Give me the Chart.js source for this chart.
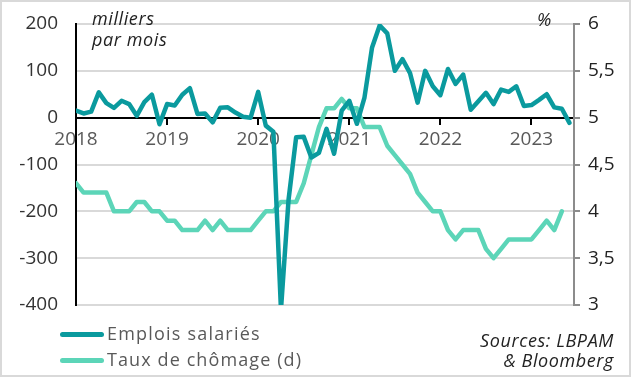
<!DOCTYPE html>
<html><head><meta charset="utf-8">
<script src="https://cdn.jsdelivr.net/npm/chart.js@4.4.0/dist/chart.umd.min.js"></script>
<style>
html,body{margin:0;padding:0;background:#fff;}
#wrap{position:relative;width:631px;height:377px;overflow:hidden;font-family:'Open Sans',sans-serif;}
#frame{position:absolute;left:0;top:0;width:631px;height:377px;box-sizing:border-box;border:2px solid #d9d9d9;pointer-events:none;}
#c{position:absolute;left:0;top:0;}
.t{position:absolute;white-space:nowrap;font-size:18px;line-height:20px;}
.it{font-style:italic;color:#222;}
.lg{color:#595959;}
.sw{position:absolute;height:5px;border-radius:3px;}
</style></head>
<body>
<div id="wrap">
<canvas id="c" width="631" height="377"></canvas>
<div class="t it" style="left:92px;top:8px;letter-spacing:0.6px;">milliers</div>
<div class="t it" style="left:92px;top:29px;letter-spacing:0.6px;">par mois</div>
<div class="t it" style="left:537px;top:9px;">%</div>
<div class="sw" style="left:60px;top:332px;width:44px;background:#0a9a9e;"></div>
<div class="t lg" style="left:107px;top:323px;letter-spacing:1.2px;">Emplois salariés</div>
<div class="sw" style="left:60px;top:358px;width:44px;background:#5cd5b8;"></div>
<div class="t lg" style="left:107px;top:349px;letter-spacing:1.1px;">Taux de chômage (d)</div>
<div class="t it" style="right:17px;top:330px;text-align:right;letter-spacing:0.6px;">Sources: LBPAM</div>
<div class="t it" style="right:17px;top:350px;text-align:right;letter-spacing:0.6px;">&amp; Bloomberg</div>
<div id="frame"></div>
</div>
<script>
const yearLabels = ['2018','2019','2020','2021','2022','2023'];
const leftTicks = [-400,-300,-200,-100,0,100,200];
const rightTicks = [3,3.5,4,4.5,5,5.5,6];
// monthly values, Jan 2018 onwards
const emplois = [15, 9, 13, 54, 31, 21, 36, 29, 4, 33, 49, -14,
 29, 26, 49, 63, 8, 9, -10, 21, 22, 11, 2, 0,
 55, -17, -30, -410, -175, -42, -41, -85, -75, -24, -77, 15,
 36, -13, 43, 150, 197, 180, 100, 125, 95, 32, 100, 67,
 48, 104, 72, 92, 17, 35, 53, 29, 60, 55, 67, 25,
 27, 38, 50, 22, 19, -11];
const chomage = [4.3, 4.2, 4.2, 4.2, 4.2, 4.0, 4.0, 4.0, 4.1, 4.1, 4.0, 4.0,
 3.9, 3.9, 3.8, 3.8, 3.8, 3.9, 3.8, 3.9, 3.8, 3.8, 3.8, 3.8,
 3.9, 4.0, 4.0, 4.1, 4.1, 4.1, 4.3, 4.6, 4.9, 5.1, 5.1, 5.2,
 5.1, 5.1, 4.9, 4.9, 4.9, 4.7, 4.6, 4.5, 4.4, 4.2, 4.1, 4.0,
 4.0, 3.8, 3.7, 3.8, 3.8, 3.8, 3.6, 3.5, 3.6, 3.7, 3.7, 3.7,
 3.7, 3.8, 3.9, 3.8, 4.0];

const FONT = "'Open Sans', sans-serif";
Chart.defaults.font.family = FONT;

new Chart(document.getElementById('c'), {
  type: 'line',
  data: {
    datasets: [
      { label: 'Emplois salariés', data: emplois.map((v,i)=>({x:i,y:v})), yAxisID:'y',
        borderColor:'#0a9a9e', borderWidth:4.5, pointRadius:0, tension:0, borderJoinStyle:'round', borderCapStyle:'round' },
      { label: 'Taux de chômage (d)', data: chomage.map((v,i)=>({x:i,y:v})), yAxisID:'y1',
        borderColor:'#5cd5b8', borderWidth:4.5, pointRadius:0, tension:0, borderJoinStyle:'round', borderCapStyle:'round' }
    ]
  },
  options: {
    responsive:false, animation:false, maintainAspectRatio:false,
    layout:{padding:{top:24,bottom:72,left:0,right:0}},
    plugins:{legend:{display:false}, tooltip:{enabled:false}},
    scales:{
      x:{ type:'linear', min:0, max:65.6, position:{y:0},
        afterBuildTicks: s => { s.ticks = yearLabels.map((_,i)=>({value:i*12})); },
        ticks:{ callback:(v)=> yearLabels[Math.round(v/12)], color:'#595959', font:{size:19}, padding:5, maxRotation:0, autoSkip:false },
        grid:{ drawOnChartArea:false, drawTicks:true, tickLength:6, color:'#000', lineWidth:2 },
        border:{ display:true, color:'#000', width:2 },
        afterFit: s => { s.height = 0; }
      },
      y:{ type:'linear', position:'left', min:-400, max:200,
        afterBuildTicks: s => { s.ticks = leftTicks.map(v=>({value:v})); },
        ticks:{ color:'#333', font:{size:19}, padding:18 },
        grid:{ color: ctx => (ctx.tick && ctx.tick.value===0) ? 'rgba(0,0,0,0)' : '#d9d9d9', lineWidth:2, drawTicks:false },
        border:{ display:true, color:'#000', width:2 },
        afterFit: s => { s.width = 76; s.paddingTop = 0; s.paddingBottom = 0; }
      },
      y1:{ type:'linear', position:'right', min:3, max:6,
        afterBuildTicks: s => { s.ticks = rightTicks.map(v=>({value:v})); },
        ticks:{ callback:v=>String(v).replace('.',','), color:'#222', font:{size:19}, padding:8 },
        grid:{ drawOnChartArea:false, drawTicks:true, tickLength:6, color:'#8c8c8c', lineWidth:2 },
        border:{ display:true, color:'#8c8c8c', width:2 },
        afterFit: s => { s.width = 57; s.paddingTop = 0; s.paddingBottom = 0; }
      }
    }
  }
});
</script>
</body></html>
